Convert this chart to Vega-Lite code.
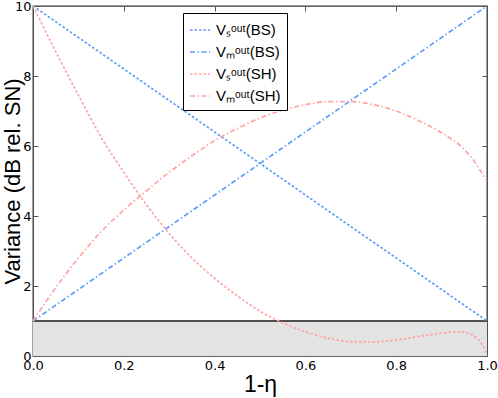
{
  "$schema": "https://vega.github.io/schema/vega-lite/v6.json",
  "width": 454,
  "height": 350,
  "autosize": "none",
  "padding": {"left": 33, "top": 6, "right": 11, "bottom": 42},
  "background": "white",
  "config": {
    "font": "DejaVu Sans",
    "view": {"stroke": "#333333", "strokeWidth": 1.3},
    "axis": {"grid": false, "domain": false, "labelFlush": false, "labelOverlap": false, "labelColor": "black", "labelFont": "DejaVu Sans", "labelFontSize": 13, "tickColor": "#555555", "tickSize": -5, "tickWidth": 1, "titleFont": "Liberation Sans", "titleFontWeight": "normal", "titleColor": "black", "titleFontSize": 22}
  },
  "datasets": {
    "band": [{"x": 0, "lo": 0, "hi": 1}, {"x": 1, "lo": 0, "hi": 1}],
    "curves": [
      {"x": 0, "y": 10, "series": "Vs(BS)"},
      {"x": 1, "y": 1, "series": "Vs(BS)"},
      {"x": 0, "y": 1, "series": "Vm(BS)"},
      {"x": 1, "y": 10, "series": "Vm(BS)"},
      {"x": 0, "y": 10, "series": "Vs(SH)"},
      {"x": 0.05, "y": 8.7, "series": "Vs(SH)"},
      {"x": 0.1, "y": 7.45, "series": "Vs(SH)"},
      {"x": 0.15, "y": 6.25, "series": "Vs(SH)"},
      {"x": 0.2, "y": 5.25, "series": "Vs(SH)"},
      {"x": 0.25, "y": 4.32, "series": "Vs(SH)"},
      {"x": 0.3, "y": 3.5, "series": "Vs(SH)"},
      {"x": 0.35, "y": 2.8, "series": "Vs(SH)"},
      {"x": 0.4, "y": 2.22, "series": "Vs(SH)"},
      {"x": 0.45, "y": 1.72, "series": "Vs(SH)"},
      {"x": 0.5, "y": 1.28, "series": "Vs(SH)"},
      {"x": 0.55, "y": 0.95, "series": "Vs(SH)"},
      {"x": 0.6, "y": 0.69, "series": "Vs(SH)"},
      {"x": 0.65, "y": 0.51, "series": "Vs(SH)"},
      {"x": 0.7, "y": 0.41, "series": "Vs(SH)"},
      {"x": 0.75, "y": 0.4, "series": "Vs(SH)"},
      {"x": 0.8, "y": 0.46, "series": "Vs(SH)"},
      {"x": 0.85, "y": 0.56, "series": "Vs(SH)"},
      {"x": 0.9, "y": 0.65, "series": "Vs(SH)"},
      {"x": 0.93, "y": 0.69, "series": "Vs(SH)"},
      {"x": 0.95, "y": 0.68, "series": "Vs(SH)"},
      {"x": 0.97, "y": 0.58, "series": "Vs(SH)"},
      {"x": 0.98, "y": 0.48, "series": "Vs(SH)"},
      {"x": 0.99, "y": 0.32, "series": "Vs(SH)"},
      {"x": 1, "y": 0.05, "series": "Vs(SH)"},
      {"x": 0, "y": 1, "series": "Vm(SH)"},
      {"x": 0.05, "y": 1.95, "series": "Vm(SH)"},
      {"x": 0.1, "y": 2.8, "series": "Vm(SH)"},
      {"x": 0.15, "y": 3.55, "series": "Vm(SH)"},
      {"x": 0.2, "y": 4.17, "series": "Vm(SH)"},
      {"x": 0.25, "y": 4.72, "series": "Vm(SH)"},
      {"x": 0.3, "y": 5.25, "series": "Vm(SH)"},
      {"x": 0.35, "y": 5.72, "series": "Vm(SH)"},
      {"x": 0.4, "y": 6.15, "series": "Vm(SH)"},
      {"x": 0.45, "y": 6.5, "series": "Vm(SH)"},
      {"x": 0.5, "y": 6.8, "series": "Vm(SH)"},
      {"x": 0.55, "y": 7.02, "series": "Vm(SH)"},
      {"x": 0.6, "y": 7.18, "series": "Vm(SH)"},
      {"x": 0.65, "y": 7.27, "series": "Vm(SH)"},
      {"x": 0.7, "y": 7.27, "series": "Vm(SH)"},
      {"x": 0.75, "y": 7.18, "series": "Vm(SH)"},
      {"x": 0.8, "y": 7.0, "series": "Vm(SH)"},
      {"x": 0.85, "y": 6.72, "series": "Vm(SH)"},
      {"x": 0.9, "y": 6.38, "series": "Vm(SH)"},
      {"x": 0.95, "y": 5.9, "series": "Vm(SH)"},
      {"x": 0.97, "y": 5.6, "series": "Vm(SH)"},
      {"x": 0.99, "y": 5.2, "series": "Vm(SH)"},
      {"x": 1, "y": 5.0, "series": "Vm(SH)"}
    ]
  },
  "layer": [
    {
      "data": {"name": "band"},
      "mark": {"type": "area", "color": "#e3e3e3", "opacity": 1},
      "encoding": {
        "x": {"field": "x", "type": "quantitative", "scale": {"domain": [0, 1], "nice": false}, "title": "1-η", "axis": {"orient": "bottom", "values": [0, 0.2, 0.4, 0.6, 0.8, 1.0], "format": ".1f", "labelPadding": 8, "titlePadding": 1, "titleFontSize": 23}},
        "y": {"field": "lo", "type": "quantitative", "scale": {"domain": [0, 10], "nice": false}, "title": "Variance (dB rel. SN)", "axis": {"orient": "left", "values": [0, 2, 4, 6, 8, 10], "labelPadding": 7, "titleX": -14, "titleY": 175, "titleBaseline": "alphabetic"}},
        "y2": {"field": "hi"}
      }
    },
    {
      "data": {"name": "band"},
      "mark": {"type": "rule", "color": "#444444", "strokeWidth": 1.3},
      "encoding": {
        "y": {"datum": 1, "type": "quantitative", "axis": null}
      }
    },
    {
      "data": {"name": "curves"},
      "mark": {"type": "line", "strokeWidth": 1.7, "clip": true, "interpolate": "monotone"},
      "encoding": {
        "x": {"field": "x", "type": "quantitative", "axis": null},
        "y": {"field": "y", "type": "quantitative", "axis": null},
        "detail": {"field": "series"},
        "color": {
          "field": "series", "type": "nominal",
          "scale": {"domain": ["Vs(BS)", "Vm(BS)", "Vs(SH)", "Vm(SH)"], "range": ["#5c9dff", "#5c9dff", "#ffa3a3", "#ffa3a3"]},
          "legend": {
            "orient": "none", "legendX": 150, "legendY": 7, "title": null,
            "strokeColor": "black", "fillColor": "white", "padding": 6, "cornerRadius": 0,
            "symbolType": "stroke", "symbolSize": 400, "symbolStrokeWidth": 1.5,
            "labelFontSize": 15, "labelFont": "Liberation Sans", "labelColor": "black", "rowPadding": 3, "labelOffset": 5,
            "labelExpr": "datum.label == 'Vs(BS)' ? 'Vₛᵒᵘᵗ(BS)' : datum.label == 'Vm(BS)' ? 'Vₘᵒᵘᵗ(BS)' : datum.label == 'Vs(SH)' ? 'Vₛᵒᵘᵗ(SH)' : 'Vₘᵒᵘᵗ(SH)'"
          }
        },
        "strokeDash": {
          "field": "series", "type": "nominal",
          "scale": {"domain": ["Vs(BS)", "Vm(BS)", "Vs(SH)", "Vm(SH)"], "range": [[2.5, 2], [5, 2.5, 1.5, 2.5], [2.5, 2], [5, 2.5, 1.5, 2.5]]},
          "legend": {
            "orient": "none", "legendX": 150, "legendY": 7, "title": null,
            "strokeColor": "black", "fillColor": "white", "padding": 6, "cornerRadius": 0,
            "symbolType": "stroke", "symbolSize": 400, "symbolStrokeWidth": 1.5,
            "labelFontSize": 15, "labelFont": "Liberation Sans", "labelColor": "black", "rowPadding": 3, "labelOffset": 5,
            "labelExpr": "datum.label == 'Vs(BS)' ? 'Vₛᵒᵘᵗ(BS)' : datum.label == 'Vm(BS)' ? 'Vₘᵒᵘᵗ(BS)' : datum.label == 'Vs(SH)' ? 'Vₛᵒᵘᵗ(SH)' : 'Vₘᵒᵘᵗ(SH)'"
          }
        }
      }
    },
    {
      "data": {"name": "band"},
      "mark": {"type": "point", "opacity": 0},
      "encoding": {
        "x": {"field": "x", "type": "quantitative", "axis": {"orient": "top", "values": [0, 0.2, 0.4, 0.6, 0.8, 1.0], "labels": false, "title": null}},
        "y": {"field": "hi", "type": "quantitative", "axis": {"orient": "right", "values": [0, 2, 4, 6, 8, 10], "labels": false, "title": null}}
      }
    }
  ],
  "resolve": {"axis": {"x": "independent", "y": "independent"}}
}
